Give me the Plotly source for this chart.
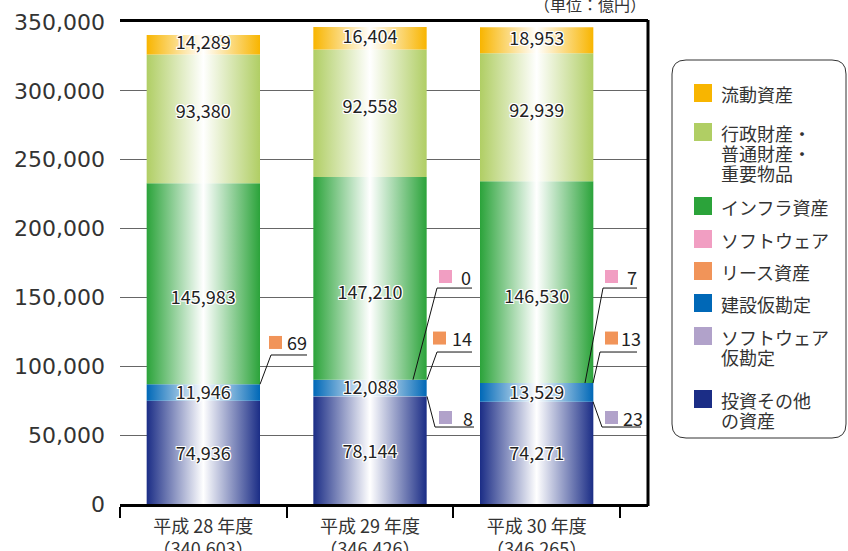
import plotly.graph_objects as go

# ---------------- data ----------------
years = ["平成 28 年度", "平成 29 年度", "平成 30 年度"]
year_totals = ["（340,603）", "（346,426）", "（346,265）"]

investment_other = [74936, 78144, 74271]      # 投資その他の資産
software_cip = [None, 8, 23]                  # ソフトウェア仮勘定
construction_cip = [11946, 12088, 13529]      # 建設仮勘定
lease_assets = [69, 14, 13]                   # リース資産
software = [None, 0, 7]                       # ソフトウェア
infrastructure = [145983, 147210, 146530]     # インフラ資産
admin_property = [93380, 92558, 92939]        # 行政財産・普通財産・重要物品
current_assets = [14289, 16404, 18953]        # 流動資産

y_tick_values = [0, 50000, 100000, 150000, 200000, 250000, 300000, 350000]
unit_label = "（単位：億円）"

# ---------------- styling ----------------
JP = "Noto Sans CJK JP"
series = [
    # key, values, colour, label fraction (None = no inside label)
    ("investment", investment_other, "#1B2D86", 0.47),
    ("software_cip", software_cip, "#B1A2CA", None),
    ("construction", construction_cip, "#0068B7", 0.40),
    ("lease", lease_assets, "#F19459", None),
    ("software", software, "#F19EC2", None),
    ("infra", infrastructure, "#2BA33A", 0.42),
    ("admin", admin_property, "#B0CE64", 0.54),
    ("current", current_assets, "#F8B500", 0.5),
]
legend_items = [
    ("#F8B500", ["流動資産"]),
    ("#B0CE64", ["行政財産・", "普通財産・", "重要物品"]),
    ("#2BA33A", ["インフラ資産"]),
    ("#F19EC2", ["ソフトウェア"]),
    ("#F19459", ["リース資産"]),
    ("#0068B7", ["建設仮勘定"]),
    ("#B1A2CA", ["ソフトウェア", "仮勘定"]),
    ("#1B2D86", ["投資その他", "の資産"]),
]
legend_rows_px = [93, 132, 206, 239, 271, 303, 336, 399]

BAR_W = 0.68
HALO = ("1px 1px 0 #fff, -1px -1px 0 #fff, 1px -1px 0 #fff, -1px 1px 0 #fff, "
        "0 1px 0 #fff, 1px 0 0 #fff, 0 -1px 0 #fff, -1px 0 0 #fff")

# callout layout (offsets from bar centre, label heights in data units)
callouts = [
    # key, bar, anchor dx, elbow dx, elbow y, end dx, square dx, square y, text dx
    ("lease", 0, 0.34, 0.406, 108200, 0.622, 0.433, 117300, 0.488),
    ("software", 1, 0.258, 0.402, 156800, 0.612, 0.453, 165200, 0.532),
    ("lease", 1, 0.342, 0.402, 110350, 0.612, 0.417, 120500, 0.478),
    ("software_cip", 1, 0.342, 0.39, 55900, 0.624, 0.453, 62800, 0.544),
    ("software", 2, 0.29, 0.398, 156800, 0.602, 0.449, 165200, 0.528),
    ("lease", 2, 0.338, 0.38, 110350, 0.602, 0.449, 120500, 0.492),
    ("software_cip", 2, 0.338, 0.392, 55900, 0.626, 0.449, 62800, 0.504),
]

fig = go.Figure()

n = len(years)
cum = [0.0] * n
seg = {}  # (key, bar) -> (base, value, colour)
label_x, label_y, label_t = [], [], []
for key, vals, col, frac in series:
    for i in range(n):
        v = vals[i]
        if v is None:
            continue
        base = cum[i]
        top = base + v
        seg[(key, i)] = (base, v, col)
        fig.add_trace(go.Scatter(
            x=[i - BAR_W / 2, i + BAR_W / 2, i + BAR_W / 2, i - BAR_W / 2, i - BAR_W / 2],
            y=[base, base, top, top, base],
            mode="lines", fill="toself",
            line=dict(width=0, color="rgba(0,0,0,0)"),
            fillcolor=col,
            fillgradient=dict(type="horizontal",
                              colorscale=[[0, col], [0.5, "#ffffff"], [1, col]]),
            hoverinfo="skip", showlegend=False,
        ))
        cum[i] = top
        if frac is not None:
            label_x.append(i)
            label_y.append(base + frac * v)
            label_t.append(f"{v:,}")

fig.add_trace(go.Scatter(
    x=label_x, y=label_y, text=label_t, mode="text",
    textfont=dict(family=JP, size=18, color="#222", shadow=HALO),
    hoverinfo="skip", showlegend=False,
))

# callouts
for key, b, adx, edx, ey, endx, sdx, sy, tdx in callouts:
    base, v, col = seg[(key, b)]
    ay = base + v / 2
    fig.add_trace(go.Scatter(
        x=[b + adx, b + edx, b + endx], y=[ay, ey, ey], mode="lines",
        line=dict(color="#111", width=1), hoverinfo="skip", showlegend=False,
    ))
    fig.add_trace(go.Scatter(
        x=[b + sdx], y=[sy], mode="markers",
        marker=dict(symbol="square", size=13, color=col),
        hoverinfo="skip", showlegend=False,
    ))
    fig.add_annotation(x=b + tdx, y=sy, xref="x", yref="y", text=f"{v:,}",
                       showarrow=False, xanchor="left", yanchor="middle",
                       font=dict(family=JP, size=18, color="#222"))

# ---------------- layout geometry ----------------
W, H = 848, 551
L, R, T, B = 120, 648, 22, 504


def px(xp):
    return (xp - L) / (R - L)


def py(yp):
    return (B - yp) / (B - T)


shapes = []
# right border
shapes.append(dict(type="line", xref="paper", yref="paper", x0=1, x1=1, y0=-0.004, y1=1.004,
                   line=dict(color="black", width=3)))
# legend rounded box
x0, x1, y0, y1, r = 672, 846, 60, 438, 14
path = (f"M {px(x0 + r)},{py(y0)} L {px(x1 - r)},{py(y0)} "
        f"Q {px(x1)},{py(y0)} {px(x1)},{py(y0 + r)} "
        f"L {px(x1)},{py(y1 - r)} Q {px(x1)},{py(y1)} {px(x1 - r)},{py(y1)} "
        f"L {px(x0 + r)},{py(y1)} Q {px(x0)},{py(y1)} {px(x0)},{py(y1 - r)} "
        f"L {px(x0)},{py(y0 + r)} Q {px(x0)},{py(y0)} {px(x0 + r)},{py(y0)} Z")
shapes.append(dict(type="path", xref="paper", yref="paper", path=path,
                   line=dict(color="#333", width=1), fillcolor="white"))

annotations = []
for (col, lines), cy in zip(legend_items, legend_rows_px):
    shapes.append(dict(type="rect", xref="paper", yref="paper",
                       x0=px(694), x1=px(712), y0=py(cy + 9), y1=py(cy - 9),
                       line=dict(width=0), fillcolor=col))
    for k, t in enumerate(lines):
        annotations.append(dict(xref="paper", yref="paper", x=px(719), y=py(cy + 1 + 20 * k),
                                text=t, showarrow=False, xanchor="left", yanchor="middle",
                                font=dict(family=JP, size=18, color="#333")))

annotations.append(dict(xref="paper", yref="paper", x=1.0, y=py(4), text=unit_label,
                        showarrow=False, xanchor="right", yanchor="middle",
                        font=dict(family=JP, size=16, color="#333")))

for a in annotations:
    fig.add_annotation(**a)

fig.update_layout(
    width=W, height=H,
    margin=dict(l=L, r=W - R, t=T, b=H - B, autoexpand=False),
    paper_bgcolor="white", plot_bgcolor="white",
    shapes=shapes,
    showlegend=False,
    xaxis=dict(
        range=[-0.5, 2.668], tickmode="array", tickvals=[0, 1, 2],
        ticktext=[f"{y}<br>{t}" for y, t in zip(years, year_totals)],
        ticks="", showgrid=False, zeroline=False, automargin=False,
        showline=True, linecolor="black", linewidth=3, mirror=True,
        tickfont=dict(family=JP, size=18, color="#333"),
        ticklabelstandoff=4,
        minor=dict(tickmode="array", tickvals=[-0.5, 0.5, 1.5, 2.5], ticks="outside",
                   ticklen=11, tickwidth=2, tickcolor="black", showgrid=False),
        fixedrange=True,
    ),
    yaxis=dict(
        range=[0, 350000], tickmode="array", tickvals=y_tick_values,
        tickformat=",d", ticks="", showgrid=True, gridcolor="#666", gridwidth=1.2,
        zeroline=False, showline=False, ticklabelstandoff=14, automargin=False,
        tickfont=dict(family="DejaVu Sans", size=22, color="#333"),
        fixedrange=True,
    ),
)

fig.write_html("out.html", config={"displayModeBar": False},
               post_script="document.body.style.margin='0';")
